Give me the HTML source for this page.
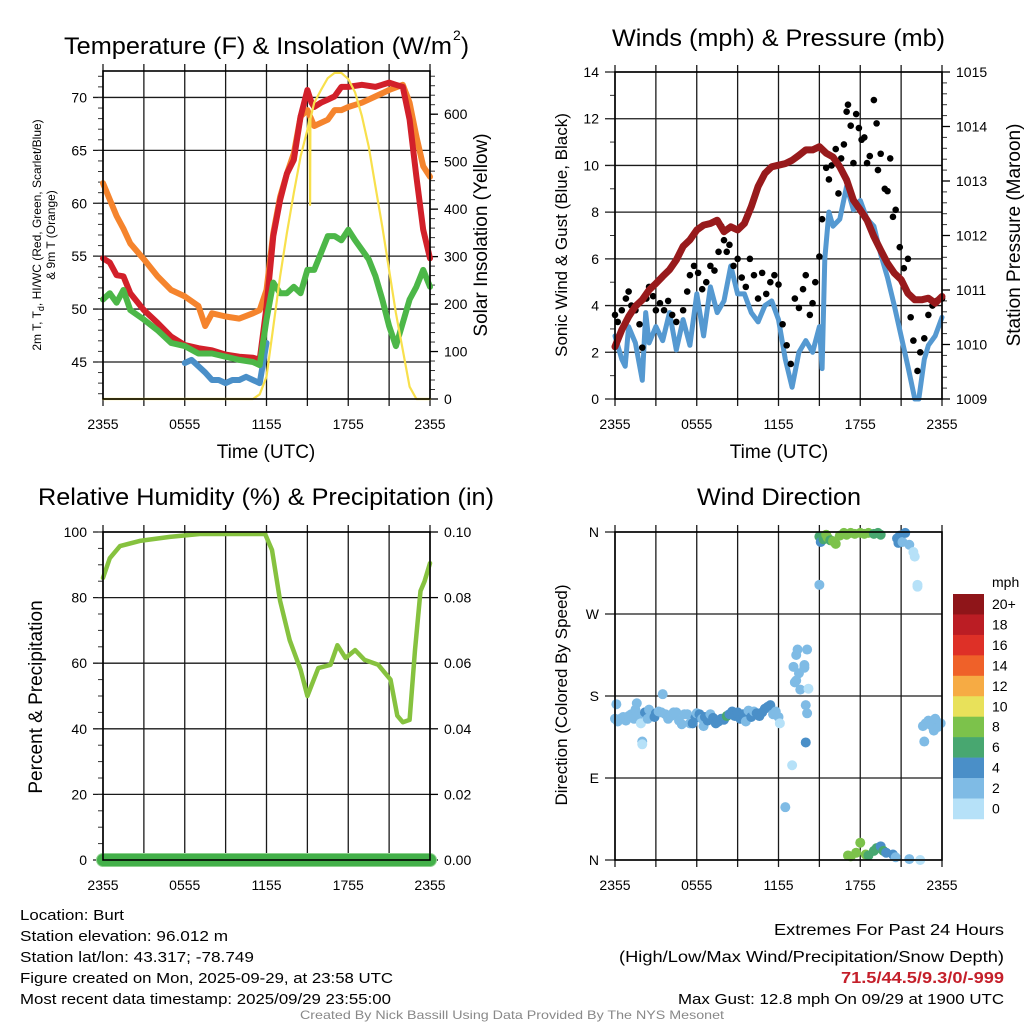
<!DOCTYPE html>
<html><head><meta charset="utf-8"><style>
html,body{margin:0;padding:0;background:#fff;}
svg{display:block;font-family:"Liberation Sans",sans-serif;}
</style></head><body>
<svg id="chart" width="1024" height="1024" viewBox="0 0 1024 1024" xmlns="http://www.w3.org/2000/svg">
<rect width="1024" height="1024" fill="#fff"/>
<g id="layer"></g>
<text x="64" y="54" font-size="24" textLength="388" lengthAdjust="spacingAndGlyphs">Temperature (F) &amp; Insolation (W/m</text>
<text x="453" y="40" font-size="14">2</text>
<text x="461" y="54" font-size="24">)</text>
<text x="612" y="46" font-size="24" textLength="333" lengthAdjust="spacingAndGlyphs">Winds (mph) &amp; Pressure (mb)</text>
<text x="38" y="505" font-size="24" textLength="456" lengthAdjust="spacingAndGlyphs">Relative Humidity (%) &amp; Precipitation (in)</text>
<text x="697" y="505" font-size="24" textLength="164" lengthAdjust="spacingAndGlyphs">Wind Direction</text>
<text x="266" y="458" font-size="19" text-anchor="middle">Time (UTC)</text>
<text x="779" y="458" font-size="19" text-anchor="middle">Time (UTC)</text>
<text transform="translate(41,235) rotate(-90)" font-size="12" text-anchor="middle">2m T, T<tspan font-size="9" dy="3">d</tspan><tspan dy="-3">, HI/WC (Red, Green, Scarlet/Blue)</tspan></text>
<text transform="translate(55,235) rotate(-90)" font-size="12" text-anchor="middle">&amp; 9m T (Orange)</text>
<text transform="translate(487,235) rotate(-90)" font-size="19" text-anchor="middle">Solar Insolation (Yellow)</text>
<text transform="translate(567,235) rotate(-90)" font-size="17" text-anchor="middle">Sonic Wind &amp; Gust (Blue, Black)</text>
<text transform="translate(1020,235) rotate(-90)" font-size="19" text-anchor="middle">Station Pressure (Maroon)</text>
<text transform="translate(42,697) rotate(-90)" font-size="19" text-anchor="middle">Percent &amp; Precipitation</text>
<text transform="translate(567,695) rotate(-90)" font-size="17" text-anchor="middle">Direction (Colored By Speed)</text>
<g font-size="15">
<text x="20" y="920" textLength="104" lengthAdjust="spacingAndGlyphs">Location: Burt</text>
<text x="20" y="941" textLength="208" lengthAdjust="spacingAndGlyphs">Station elevation: 96.012 m</text>
<text x="20" y="962" textLength="234" lengthAdjust="spacingAndGlyphs">Station lat/lon: 43.317; -78.749</text>
<text x="20" y="983" textLength="373" lengthAdjust="spacingAndGlyphs">Figure created on Mon, 2025-09-29, at 23:58 UTC</text>
<text x="20" y="1004" textLength="371" lengthAdjust="spacingAndGlyphs">Most recent data timestamp: 2025/09/29 23:55:00</text>
</g>
<g font-size="16" text-anchor="end">
<text x="1004" y="935" textLength="230" lengthAdjust="spacingAndGlyphs">Extremes For Past 24 Hours</text>
<text x="1004" y="962" textLength="385" lengthAdjust="spacingAndGlyphs">(High/Low/Max Wind/Precipitation/Snow Depth)</text>
<text x="1004" y="983" font-weight="bold" fill="#c41f2a" textLength="163" lengthAdjust="spacingAndGlyphs">71.5/44.5/9.3/0/-999</text>
<text x="1004" y="1004" font-size="15" textLength="326" lengthAdjust="spacingAndGlyphs">Max Gust: 12.8 mph On 09/29 at 1900 UTC</text>
</g>
<text x="512" y="1019" font-size="12" fill="#888" text-anchor="middle" textLength="424" lengthAdjust="spacingAndGlyphs">Created By Nick Bassill Using Data Provided By The NYS Mesonet</text>
<text x="992" y="587" font-size="14">mph</text>
</svg>
<script>
const xTickLabels = ["2355","0555","1155","1755","2355"];
const tempTicks = [45,50,55,60,65,70];
const solarTicks = [0,100,200,300,400,500,600];
const windTicks = [0,2,4,6,8,10,12,14];
const presTicks = [1009,1010,1011,1012,1013,1014,1015];
const rhTicks = [0,20,40,60,80,100];
const precipTicks = ["0.00","0.02","0.04","0.06","0.08","0.10"];
const dirTickLabels = ["N","E","S","W","N"];
const speedBinLabels = ["0","2","4","6","8","10","12","14","16","18","20+"];
const speedBinColors = ["#b6e1f8","#7fbbe5","#4a8fc8","#48a770","#7cc24b","#e8e15a","#f6ab44","#ef6129","#de3027","#bb1d24","#8f1519"];

const redT = [0,0.5,1,1.5,2,3,4,5,6,7,8,9,10,11,11.5,12,12.5,13,13.5,14,14.5,15,15.3,15.5,16,16.5,17,17.5,18,19,20,21,21.5,22,22.5,23,23.5,24];
const redV = [54.8,54.4,53.2,53.1,51.5,49.9,48.7,47.4,46.6,46.3,46.1,45.7,45.5,45.4,45.2,50.2,56.9,60.3,62.8,64.1,68.2,70.7,69.5,69.1,69.5,69.8,70.1,71.0,71.0,71.2,71.0,71.4,71.2,71.0,67.9,62.5,57.5,54.8];
const orangeT = [0,1,1.5,2,3,4,5,6,7,7.5,8,9,10,11,11.5,12,12.5,13,13.5,14,14.5,15,15.5,16,16.5,17,17.5,18,19,20,21,22,22.5,23,23.5,24];
const orangeV = [61.9,58.8,57.6,56.2,54.7,53.1,51.8,51.2,50.3,48.4,49.6,49.3,49.1,49.6,49.9,51.8,57.2,60.6,62.8,64.7,68.2,68.8,67.3,67.6,67.9,68.8,68.8,69.1,69.5,70.1,70.7,71.2,69.5,66.3,63.5,62.5];
const greenT = [0,0.5,1,1.5,2,3,4,5,6,7,8,9,10,11,11.5,12,12.5,13,13.5,14,14.5,15,15.5,16,16.5,17,17.5,18,18.5,19,19.5,20,20.5,21,21.5,22,22.5,23,23.5,24];
const greenV = [50.9,51.5,50.6,51.8,49.9,49.0,48.0,46.8,46.5,45.8,45.8,45.5,45.2,45.0,44.7,49.0,52.5,51.5,51.5,52.1,51.5,53.7,53.7,55.3,56.9,56.9,56.5,57.5,56.5,55.6,54.7,53.1,50.9,48.4,46.5,48.7,50.9,52.1,53.7,52.1];
const blueT = [6,6.5,7,7.5,8,8.5,9,9.5,10,10.5,11,11.5,12];
const blueV = [44.9,45.2,44.6,44.0,43.3,43.3,43.0,43.3,43.3,43.6,43.3,43.0,46.8];
const solarT = [0,11,11.5,12,12.5,13,13.5,14,14.5,15,15.15,15.2,15.22,15.5,16,16.5,17,17.5,18,18.5,19,19.5,20,20.5,21,21.5,22,22.5,23,24];
const solarV = [0,0,10,47,152,258,350,434,511,567,590,409,590,624,651,676,687,687,674,646,596,532,447,363,272,181,103,26,0,0];

const presT = [0,0.5,1,1.5,2,2.5,3,3.5,4,4.5,5,5.5,6,6.5,7,7.5,8,8.5,9,9.5,10,10.5,11,11.5,12,12.5,13,13.5,14,14.5,15,15.5,16,16.5,17,17.5,18,18.5,19,19.5,20,20.5,21,21.5,22,22.5,23,23.5,24];
const presV = [1009.96,1010.27,1010.51,1010.70,1010.82,1011.00,1011.12,1011.25,1011.37,1011.55,1011.80,1011.92,1012.10,1012.19,1012.22,1012.28,1012.07,1012.16,1012.10,1012.22,1012.53,1012.90,1013.14,1013.26,1013.29,1013.32,1013.38,1013.47,1013.57,1013.57,1013.63,1013.51,1013.44,1013.26,1013.02,1012.65,1012.47,1012.28,1011.98,1011.73,1011.49,1011.31,1011.19,1010.94,1010.82,1010.82,1010.85,1010.76,1010.88];
const windT = [0,0.5,0.75,1,1.5,2,2.25,2.5,3,3.5,4,4.5,5,5.5,6,6.5,7,7.5,8,8.5,9,9.5,10,10.5,11,11.5,12,12.5,13,13.5,14,14.5,15,15.2,15.4,15.7,16,16.5,17,17.5,18,18.5,19,19.5,20,20.5,21,21.5,22,22.3,22.7,23,23.5,24];
const windV = [2.7,1.7,1.4,3.1,2.4,0.8,3.7,2.4,3.1,2.5,3.7,2.1,3.4,2.3,4.5,2.7,4.8,3.7,4.2,5.7,4.5,4.5,3.7,3.3,4.0,4.2,3.4,1.7,0.5,2.0,2.5,2.0,3.1,1.3,6.0,8.0,7.4,7.7,9.1,8.1,8.5,7.7,7.4,6.2,5.2,4.0,2.7,1.4,0.0,0.0,1.7,2.3,2.7,3.5];
const gustT = [0.0,0.2,0.5,0.8,1.0,1.2,1.5,1.8,2.0,2.3,2.5,2.8,3.0,3.3,3.6,3.9,4.2,4.5,5.0,5.3,5.5,5.8,6.1,6.4,6.7,7.0,7.3,7.6,7.8,8.0,8.2,8.4,8.7,9.0,9.3,9.6,9.9,10.2,10.5,10.8,11.1,11.4,11.7,12.0,12.3,12.6,12.9,13.2,13.5,13.8,14.0,14.3,14.5,14.7,15.0,15.2,15.5,15.7,15.9,16.2,16.4,16.6,16.8,17.0,17.1,17.3,17.5,17.7,17.9,18.1,18.3,18.5,18.7,19.0,19.2,19.3,19.5,19.8,20.0,20.2,20.4,20.6,20.9,21.2,21.5,21.7,21.9,22.2,22.4,22.7,23.0,23.3,23.6,24.0];
const gustV = [3.6,3.3,3.8,4.3,4.6,4.0,3.8,3.2,2.2,4.3,4.8,4.4,3.8,4.1,3.8,4.2,3.6,3.3,3.8,4.6,5.3,5.7,5.4,4.7,5.0,5.7,5.5,6.3,7.4,6.8,6.3,6.6,5.7,6.0,5.2,4.8,6.0,5.3,4.3,5.4,4.5,5.0,5.3,4.9,3.2,2.3,1.5,4.3,3.9,4.7,5.3,3.6,4.1,5.0,6.1,7.7,9.9,9.4,10.0,10.7,8.8,10.3,10.9,12.3,12.6,11.7,10.1,12.2,11.6,11.1,11.2,10.1,10.4,12.8,11.8,9.8,10.5,9.0,8.9,10.3,7.8,8.1,6.5,5.6,6.0,3.5,2.5,1.2,2.0,2.6,3.6,4.0,4.2,4.3];

const rhT = [0,0.5,1.25,2.7,4.9,7.1,11.9,12.4,13,13.7,14.5,15,15.8,16.7,17.2,17.8,18.5,19.2,20.2,21.1,21.6,22.0,22.5,22.9,23.3,23.6,24];
const rhV = [86,92,95.7,97.3,98.5,99.4,99.4,94.5,79,67,58,50,58.5,59.5,65.5,61.6,64,61,59.5,55,44,42,42.7,64,82,85,90.5];
const precipT = [0,24];
const precipV = [0,0];

const dirT = [0.0,0.1,0.2,0.4,0.6,0.8,1.0,1.2,1.4,1.5,1.6,1.7,1.9,2.0,2.0,2.2,2.4,2.5,2.7,2.9,3.0,3.2,3.4,3.5,3.7,3.9,4.1,4.3,4.5,4.7,4.9,5.1,5.3,5.5,5.7,5.9,6.0,6.2,6.4,6.5,6.6,6.8,7.0,7.2,7.4,7.6,7.8,8.0,8.2,8.4,8.6,8.8,9.0,9.2,9.4,9.6,9.8,10.0,10.2,10.4,10.6,10.8,11.0,11.2,11.4,11.6,11.8,12.0,12.1,13.3,13.1,13.4,13.2,13.5,13.3,13.6,13.9,14.0,14.1,14.0,14.1,13.9,14.2,13.0,12.5,15.0,15.0,15.1,15.3,15.5,15.6,15.8,16.0,16.2,16.5,16.8,17.0,17.3,17.6,18.0,18.3,18.6,19.0,19.3,19.5,20.7,20.9,20.8,21.1,21.3,21.6,21.9,22.0,22.2,22.2,17.1,17.3,17.7,18.0,18.4,18.6,19.0,19.2,19.5,19.7,19.9,20.4,20.6,21.6,22.4,22.6,22.8,23.0,23.2,23.4,23.5,23.7,23.9,22.7];
const dirD = [155,171,152,155,157,153,158,160,155,165,172,158,150,130,127,162,155,165,160,157,161,163,162,182,160,155,158,162,162,153,149,160,160,150,150,156,161,160,155,147,157,153,160,156,150,152,155,154,158,160,163,158,162,155,160,152,164,157,163,161,158,162,166,168,170,160,163,157,150,225,212,231,195,205,197,187,211,170,161,129,231,214,188,104,58,302,355,349,352,357,354,351,350,347,356,359,357,359,358,359,358,359,358,359,357,353,356,348,349,359,346,338,333,302,300,5,4,8,19,6,5,10,13,15,10,8,6,3,1,0,147,150,153,148,142,155,146,150,130];
const dirS = [3,3,3,3,2.5,3,3,3,3,3,3,3,1.5,3,1.5,4.5,3,3,3,4.5,4.5,3,3,3,3,3,3,3,3,3,3,3,3,3,4.5,4.5,3,4.5,3,3,4.5,4.5,3,4.5,4.5,4.5,4.5,4.5,7,4.5,4.5,4.5,4.5,4.5,4.5,3,3,4.5,3,4.5,4.5,4.5,4.5,4.5,4.5,3,3,3,1.5,3,3,3,3,3,3,3,3,3,3,4.5,3,3,1.5,1.5,3,3,6.5,4.5,6.5,8.5,8.5,6.5,8.5,8.5,8.5,8.5,8.5,8.5,8.5,8.5,8.5,8.5,6.5,6.5,6.5,4.5,4.5,4.5,3,4.5,3,1.5,1.5,1.5,1.5,8.5,8.5,8.5,8.5,8.5,6.5,6.5,6.5,4.5,6.5,4.5,4.5,3,3,1.5,3,3,3,3,3,3,3,3,2];

const P1 = {x0:103,x1:430,y0:71,y1:399};
const P2 = {x0:615,x1:942,y0:72,y1:399};
const P3 = {x0:103,x1:430,y0:532,y1:860};
const P4 = {x0:615,x1:942,y0:532,y1:860};
const NS = "http://www.w3.org/2000/svg";
const layer = document.getElementById('layer');
function mk(tag, attrs, parent){ const e=document.createElementNS(NS,tag); for(const k in attrs) e.setAttribute(k,attrs[k]); (parent||layer).appendChild(e); return e; }
const xs = (P,t)=> P.x0 + t/24*(P.x1-P.x0);
const lin = (P,lo,hi)=> v => P.y1 - (v-lo)/(hi-lo)*(P.y1-P.y0);
const tempY = lin(P1,41.5,72.5);
const solarY = lin(P1,0,691);
const windY = lin(P2,0,14);
const presY = lin(P2,1009,1015);
const rhY = lin(P3,0,100);
const precY = lin(P3,0,0.1);
const dirY = lin(P4,0,360);

function grid(P, yvals, yfn, name){
  const g = mk('g',{});
  
  
  for(let h=0; h<=24; h+=3){
    const x = xs(P,h);
    mk('line',{x1:x,x2:x,y1:P.y0-7,y2:P.y1+7,stroke:'#1a1a1a','stroke-width':1.3},g);
  }
  yvals.forEach(v=>{ const y=yfn(v); mk('line',{x1:P.x0-10,x2:P.x1,y1:y,y2:y,stroke:'#1a1a1a','stroke-width':1.3},g); });
  return g;
}
function frame(P,name){
  const r = mk('rect',{x:P.x0,y:P.y0,width:P.x1-P.x0,height:P.y1-P.y0,fill:'none',stroke:'#000','stroke-width':1.6});
  
  
}
function xLabels(P,name){
  xTickLabels.forEach((l,i)=>{
    const t = mk('text',{x:xs(P,i*6),y:P.y1+30,'font-size':14,'text-anchor':'middle'});
    
    
    t.textContent=l;
  });
}
function minorTicks(x, side, lo, hi, step, fn){
  for(let v=lo; v<=hi+1e-9; v+=step){
    const y=fn(v);
    mk('line',{x1:x,x2:x+side*5,y1:y,y2:y,stroke:'#333','stroke-width':1});
  }
}
function leftLabels(P, vals, fn, labels, name){
  vals.forEach((v,i)=>{
    const t = mk('text',{x:P.x0-16,y:fn(v)+5,'font-size':14,'text-anchor':'end'});
    
    
    t.textContent = labels ? labels[i] : v;
  });
}
function rightLabels(P, vals, fn, labels, name){
  vals.forEach((v,i)=>{
    mk('line',{x1:P.x1,x2:P.x1+8,y1:fn(v),y2:fn(v),stroke:'#000','stroke-width':1.3});
    const t = mk('text',{x:P.x1+14,y:fn(v)+5,'font-size':14});
    
    
    t.textContent = labels ? labels[i] : v;
  });
}
function line(P, T, V, yfn, color, w, name){
  const d = T.map((t,i)=>(i?'L':'M')+xs(P,t).toFixed(1)+','+yfn(V[i]).toFixed(1)).join('');
  const p = mk('path',{d:d,fill:'none',stroke:color,'stroke-width':w,'stroke-linejoin':'round','stroke-linecap':'round'});
  
  
}

grid(P1,tempTicks,tempY,'temperature');
minorTicks(P1.x0,-1,42,72,1,tempY);
minorTicks(P1.x1,1,0,680,20,solarY);
leftLabels(P1,tempTicks,tempY,null,'temperature-y');
rightLabels(P1,solarTicks,solarY,null,'solar-y');
line(P1,blueT,blueV,tempY,'#4a8fc8',6,'heat-index-windchill-line');
line(P1,orangeT,orangeV,tempY,'#f5842d',6,'temperature-9m-line');
line(P1,redT,redV,tempY,'#d2202a',6,'temperature-2m-line');
line(P1,greenT,greenV,tempY,'#4cb748',6,'dewpoint-line');
line(P1,solarT,solarV,solarY,'#f8e04c',2.2,'solar-insolation-line');
frame(P1,'temperature');
xLabels(P1,'temperature');

grid(P2,windTicks,windY,'winds');
minorTicks(P2.x0,-1,0,14,1,windY);
minorTicks(P2.x1,1,1009,1015,0.2,presY);
leftLabels(P2,windTicks,windY,null,'wind-y');
rightLabels(P2,presTicks,presY,null,'pressure-y');
line(P2,windT,windV,windY,'#5599d1',5,'sonic-wind-line');
gustT.forEach((t,i)=>{
  const c = mk('circle',{cx:xs(P2,t),cy:windY(gustV[i]),r:3.3,fill:'#000'});
  
  
});
line(P2,presT,presV,presY,'#981a1c',7,'pressure-line');
frame(P2,'winds');
xLabels(P2,'winds');

grid(P3,rhTicks,rhY,'humidity');
minorTicks(P3.x0,-1,0,100,5,rhY);
leftLabels(P3,rhTicks,rhY,null,'humidity-y');
rightLabels(P3,rhTicks,rhY,precipTicks,'precip-y');
line(P3,rhT,rhV,rhY,'#86c23f',4.5,'relative-humidity-line');
line(P3,precipT,precipV,precY,'#8fd18f',14,'precipitation-line-edge');
line(P3,precipT,precipV,precY,'#43b049',12,'precipitation-line');
frame(P3,'humidity');
xLabels(P3,'humidity');

grid(P4,[0,90,180,270,360],dirY,'direction');
leftLabels(P4,[0,90,180,270,360],dirY,dirTickLabels,'direction-y');
function speedColor(s){ return speedBinColors[Math.min(10,Math.floor(s/2))]; }
dirT.forEach((t,i)=>{
  const c = mk('circle',{cx:xs(P4,t),cy:dirY(dirD[i]),r:5,fill:speedColor(dirS[i])});
  
  
});
frame(P4,'direction');
xLabels(P4,'direction');

const cbTop = 594, cbH = 20.45;
speedBinColors.slice().reverse().forEach((col,i)=>{
  const r = mk('rect',{x:953,y:cbTop+i*cbH,width:31,height:cbH+0.3,fill:col});
  
  
});
speedBinLabels.slice().reverse().forEach((l,i)=>{
  const t = mk('text',{x:992,y:cbTop+i*cbH+15,'font-size':14});
  
  
  t.textContent=l;
});
</script>
</body></html>
